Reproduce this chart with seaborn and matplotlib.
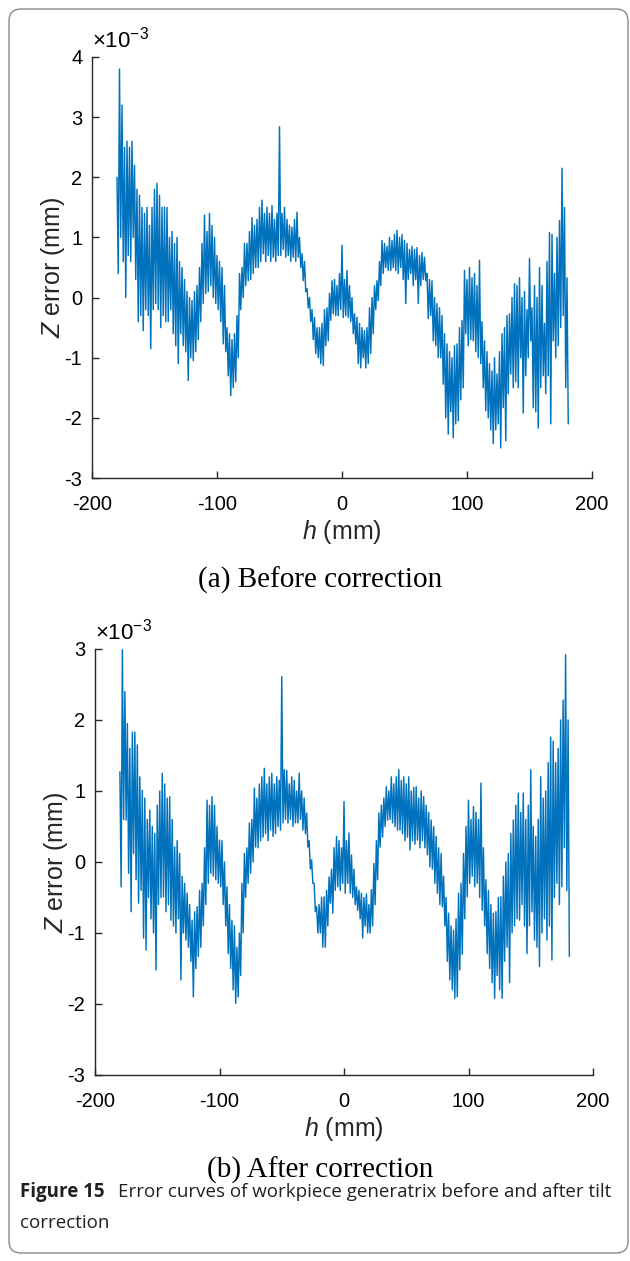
import numpy as np
import pandas as pd
import matplotlib
matplotlib.use("Agg")
import matplotlib.pyplot as plt
from matplotlib.patches import FancyBboxPatch
import seaborn as sns

# values, in units of 1e-3 mm
# peaks sit at h = -180, -178, ..., 180 and troughs at h = -179, -177, ..., 181
before_hi = [2.0, 3.8, 3.2, 2.5, 2.6, 2.5, 2.6, 2.2, 1.8, 1.7,
             1.5, 1.4, 1.5, 1.2, 1.5, 1.8, 1.9, 1.7, 1.5, 1.5,
             1.5, 1.0, 1.1, 0.9, 1.0, 0.6, 0.5, 0.3, 0.1, 0.0,
             -0.05, 0.1, 0.2, 0.5, 0.9, 1.37, 1.1, 1.4, 1.2, 1.0,
             0.7, 0.6, 0.5, 0.2, -0.5, -0.6, -0.7, -0.6, -0.3, 0.4,
             0.5, 0.9, 0.9, 1.1, 1.33, 1.2, 1.3, 1.5, 1.62, 1.4,
             1.5, 1.4, 1.53, 1.3, 1.4, 2.84, 1.4, 1.5, 1.3, 1.2,
             1.17, 1.3, 1.42, 1.0, 0.73, 0.6, 0.15, 0.0, -0.2, -0.33,
             -0.5, -0.5, -0.43, -0.2, -0.17, 0.07, 0.28, 0.3, 0.2, 0.4,
             0.87, 0.3, 0.45, 0.2, 0.0, -0.27, -0.33, -0.43, -0.5, -0.55,
             -0.5, -0.17, 0.0, 0.2, 0.28, 0.6, 0.95, 0.9, 0.85, 1.0,
             0.95, 1.05, 1.12, 1.0, 1.05, 0.95, 0.9, 0.8, 0.85, 0.8,
             0.83, 0.7, 0.75, 0.67, 0.4, 0.3, 0.28, 0.0, -0.1, -0.17,
             -0.3, -0.6, -0.77, -0.9, -1.0, -0.8, -0.77, -0.5, -0.38, 0.45,
             0.3, 0.5, 0.33, 0.4, 0.2, 0.62, -0.4, -0.72, -0.9, -1.1,
             -1.22, -1.0, -1.27, -0.9, -0.6, -0.5, -0.3, -0.27, 0.0, 0.23,
             0.2, 0.33, 0.0, 0.1, -0.2, 0.65, -0.17, 0.2, 0.0, 0.5,
             0.2, -0.43, 0.6, 1.08, 1.05, 0.4, 1.0, 1.28, 2.15, 1.5,
             0.33]
before_lo = [0.4, 1.0, 0.6, 0.0, 0.7, 0.6, 1.0, 0.3, -0.4, -0.3,
             -0.55, -0.2, -0.3, -0.85, -0.2, -0.1, -0.2, -0.5, -0.3, -0.4,
             -0.4, -0.2, -0.6, -0.8, -1.1, -0.6, -0.8, -0.9, -1.38, -1.0,
             -1.05, -0.9, -0.7, -0.4, -0.1, 0.07, 0.1, 0.2, 0.0, -0.1,
             -0.2, -0.4, -0.77, -0.9, -1.3, -1.63, -1.5, -1.4, -1.0, -0.2,
             0.0, 0.2, 0.28, 0.3, 0.4, 0.5, 0.5, 0.6, 0.73, 0.6,
             0.7, 0.6, 0.67, 0.6, 0.7, 0.7, 0.8, 0.67, 0.7, 0.6,
             0.67, 0.6, 0.67, 0.5, 0.28, 0.1, -0.17, -0.4, -0.7, -0.93,
             -1.0, -1.1, -1.13, -0.8, -0.72, -0.38, -0.27, -0.3, -0.3, -0.2,
             -0.33, -0.3, -0.33, -0.4, -0.6, -0.77, -1.1, -1.17, -1.0, -1.17,
             -1.1, -0.93, -0.6, -0.2, -0.05, 0.2, 0.4, 0.5, 0.45, 0.45,
             0.5, 0.45, 0.4, 0.5, 0.3, -0.1, 0.3, 0.4, 0.2, 0.3,
             -0.1, 0.2, 0.3, 0.28, -0.35, -0.3, -0.72, -0.8, -1.0, -1.0,
             -1.44, -2.0, -2.27, -1.9, -2.33, -2.1, -2.05, -1.7, -1.5, -0.6,
             -0.8, -0.7, -0.72, -0.9, -1.0, -1.1, -1.5, -1.88, -2.0, -2.2,
             -2.43, -2.2, -2.1, -2.5, -1.83, -2.38, -1.6, -1.27, -1.5, -1.4,
             -1.5, -1.0, -1.92, -1.3, -1.0, -0.72, -1.83, -1.9, -2.17, -1.5,
             -1.3, -1.6, -1.3, -2.1, -0.72, -1.0, -0.8, -0.5, -0.3, -1.5,
             -2.1]

after_hi = [1.27, 2.99, 2.4, 1.95, 1.6, 1.83, 1.83, 1.65, 1.2, 1.01,
            0.9, 0.6, 0.73, 0.5, 0.4, 0.8, 1.0, 1.25, 1.1, 0.9,
            0.92, 0.6, 0.21, 0.3, 0.12, -0.2, -0.3, -0.44, -0.6, -0.82,
            -0.7, -0.63, -0.4, -0.3, 0.2, 0.87, 0.8, 0.92, 0.8, 0.5,
            0.31, 0.3, 0.0, -0.35, -0.6, -0.82, -0.9, -1.2, -1.0, -0.3,
            0.12, 0.2, 0.55, 0.6, 1.04, 0.9, 1.1, 1.2, 1.32, 1.1,
            1.2, 1.25, 1.1, 1.2, 1.15, 2.61, 1.3, 1.29, 1.1, 1.2,
            1.15, 1.0, 1.25, 1.0, 0.9, 0.69, 0.3, 0.03, -0.3, -0.63,
            -0.6, -0.5, -0.49, -0.4, -0.21, -0.1, 0.2, 0.36, 0.3, 0.2,
            0.85, 0.3, 0.41, 0.1, -0.1, -0.35, -0.4, -0.44, -0.5, -0.45,
            -0.6, -0.39, -0.02, 0.3, 0.69, 0.8, 0.9, 1.06, 1.0, 1.2,
            1.1, 1.2, 1.3, 1.15, 1.2, 1.1, 1.2, 1.0, 1.05, 1.06,
            0.9, 1.0, 0.92, 0.8, 0.7, 0.59, 0.5, 0.36, 0.2, 0.12,
            -0.2, -0.5, -0.72, -0.9, -0.96, -0.8, -0.44, -0.3, 0.12, 0.5,
            0.87, 0.6, 0.78, 0.7, 0.6, 1.11, 0.2, -0.25, -0.4, -0.6,
            -0.72, -0.7, -0.5, -0.49, -0.2, 0.0, 0.12, 0.4, 0.59, 0.8,
            0.97, 0.7, 0.97, 0.6, 0.8, 1.3, 0.5, 0.36, 0.6, 1.2,
            0.9, 1.0, 1.4, 1.76, 1.7, 1.4, 1.6, 2.0, 2.28, 2.92,
            2.0]
after_lo = [-0.35, 0.6, 0.59, -0.16, -0.7, 0.12, -0.25, -0.58, -0.4, -1.07,
            -1.24, -0.5, -0.8, -1.0, -1.52, -0.6, -0.5, -0.49, -0.7, -0.6,
            -0.82, -0.9, -1.0, -0.8, -1.66, -1.0, -1.1, -1.2, -1.4, -1.9,
            -1.5, -1.33, -1.2, -0.9, -0.6, -0.3, -0.16, -0.2, -0.25, -0.3,
            -0.35, -0.6, -0.9, -1.29, -1.5, -1.8, -1.99, -1.9, -1.6, -1.0,
            -0.5, -0.3, -0.16, 0.0, 0.21, 0.2, 0.3, 0.35, 0.4, 0.3,
            0.45, 0.36, 0.4, 0.5, 0.45, 0.55, 0.6, 0.55, 0.6, 0.5,
            0.55, 0.55, 0.6, 0.45, 0.4, 0.21, -0.1, -0.3, -0.7, -1.0,
            -1.0, -1.2, -1.2, -0.9, -0.58, -0.72, -0.4, -0.35, -0.4, -0.3,
            -0.44, -0.3, -0.44, -0.5, -0.6, -0.68, -0.8, -1.07, -0.9, -1.0,
            -1.0, -0.9, -0.6, -0.25, 0.21, 0.35, 0.5, 0.59, 0.6, 0.55,
            0.5, 0.45, 0.45, 0.4, 0.3, 0.35, 0.17, 0.3, 0.25, 0.31,
            0.2, 0.3, 0.2, 0.1, -0.07, -0.1, -0.3, -0.44, -0.6, -0.63,
            -0.9, -1.4, -1.66, -1.8, -1.92, -1.9, -1.52, -1.3, -0.8, -0.49,
            -0.3, -0.2, -0.35, -0.3, -0.5, -0.68, -0.9, -1.29, -1.5, -1.7,
            -1.92, -1.6, -1.8, -1.92, -1.4, -1.2, -1.7, -1.0, -0.9, -0.8,
            -0.82, -0.6, -0.9, -1.29, -0.9, -0.7, -1.1, -1.2, -1.47, -1.0,
            -0.8, -1.1, -0.9, -1.38, -0.5, -0.3, -0.6, -0.35, 0.2, -0.4,
            -1.33]

h_hi = np.arange(-180, 181, 2)
h_lo = h_hi + 1


def trace(hi, lo):
    df = pd.DataFrame({"h": np.concatenate([h_hi, h_lo]),
                       "z": np.concatenate([hi, lo])})
    return df.sort_values("h")


panels = [
    (trace(before_hi, before_lo), (-3, 4), "(a) Before correction"),
    (trace(after_hi, after_lo), (-3, 3), "(b) After correction"),
]

sns.set_style("ticks")
plt.rcParams["font.family"] = ["Liberation Sans", "DejaVu Sans"]
plt.rcParams["mathtext.fontset"] = "custom"
plt.rcParams["mathtext.rm"] = "Liberation Sans"
plt.rcParams["mathtext.it"] = "Liberation Sans:italic"
plt.rcParams["axes.unicode_minus"] = False

W, H = 630, 1261
fig = plt.figure(figsize=(W / 100, H / 100), dpi=100)

# axes boxes in pixels: left, top, right, bottom
boxes = [(92, 57, 592, 478), (95, 649, 593, 1075)]
caption_y = [580, 1170]
axis_col = "#262626"

for (df, ylim, cap), (l, t, r, b), cy in zip(panels, boxes, caption_y):
    ax = fig.add_axes([l / W, 1 - b / H, (r - l) / W, (b - t) / H])
    sns.lineplot(data=df, x="h", y="z", ax=ax, color="#0072BD",
                 linewidth=1.05, estimator=None, sort=False)
    ax.set_xlim(-200, 200)
    ax.set_ylim(*ylim)
    ax.set_xticks([-200, -100, 0, 100, 200])
    ax.set_yticks(range(ylim[0], ylim[1] + 1))
    sns.despine(ax=ax)
    for s in ("left", "bottom"):
        ax.spines[s].set_color(axis_col)
        ax.spines[s].set_linewidth(1.0)
    ax.tick_params(axis="both", direction="in", length=5, width=1,
                   color=axis_col, labelsize=14.5, labelcolor="black")
    ax.tick_params(axis="x", pad=12)
    ax.tick_params(axis="y", pad=7)
    ax.set_xlabel(r"$\mathit{h}$ (mm)", fontsize=18, labelpad=3)
    ax.set_ylabel(r"$\mathit{Z}$ error (mm)", fontsize=18, labelpad=-2)
    ax.text(0.0, 1.01, r"$\times$10$^{\mathregular{-3}}$", transform=ax.transAxes,
            fontsize=16, ha="left", va="bottom", color="black")
    fig.text(0.508, 1 - cy / H, cap, family="Liberation Serif", fontsize=21,
             ha="center", va="center", color="black")

cap_kw = dict(family="Open Sans", fontsize=13.5, color="#231f20", va="baseline")
fig.text(20 / W, 1 - 1197 / H, "Figure 15", weight="bold", **cap_kw)
fig.text(118 / W, 1 - 1197 / H, "Error curves of workpiece generatrix before and after tilt",
         **cap_kw)
fig.text(20 / W, 1 - 1228 / H, "correction", **cap_kw)

frame = FancyBboxPatch((9, 8), 619, 1244, boxstyle="round,pad=0,rounding_size=12",
                       transform=None, fill=False, edgecolor="#888888", linewidth=1.0)
fig.patches.append(frame)

fig.savefig("out.png", dpi=100)
